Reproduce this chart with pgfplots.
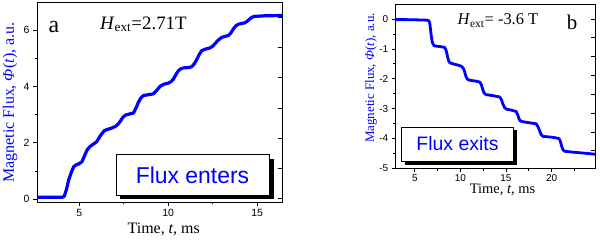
\documentclass[border=0pt]{standalone}
\usepackage{fontspec}
\setmainfont{Liberation Serif}
\newfontfamily\arial{Liberation Sans}
\usepackage{pgfplots}
\pgfplotsset{compat=1.18}
\definecolor{fluxblue}{RGB}{0,0,255}
\begin{document}
\begin{tikzpicture}
\useasboundingbox (0,0) rectangle (600bp,240bp);
\pgfplotsset{
  common/.style={
    scale only axis,
    anchor=south west,
    axis line style={line width=0.8bp},
    tick style={line width=0.7bp,black},
    major tick length=4bp,
    minor tick length=2.5bp,
    tick align=outside,
    tick pos=left,
    /pgf/number format/assume math mode=true,
    ticklabel style={font=\arial\fontsize{10.5}{12}\selectfont},
  },
  rightticks/.style={
    scale only axis,
    anchor=south west,
    axis line style={draw=none},
    tick style={line width=0.7bp,black},
    major tick length=4bp,
    tick align=inside,
    ytick pos=right,
    xtick=\empty,
    yticklabels={},
  },
}
% ---------------- Panel a ----------------
\begin{axis}[common,
  at={(37bp,38bp)}, width=245bp, height=200bp,
  xmin=2.62, xmax=16.4, ymin=-0.1, ymax=7,
  xtick={5,10,15}, minor xtick={7.5,12.5},
  ytick={0,2,4,6}, minor ytick={1,3,5},
]
\addplot[fluxblue, line width=3.2bp, line join=round, line cap=round] coordinates {
(2.62,0.07) (3.5,0.07) (4.05,0.07) (4.15,0.1) (4.28,0.35) (4.40,0.68) (4.55,0.95) (4.68,1.15) (4.82,1.22) (4.96,1.25) (5.15,1.33) (5.30,1.55) (5.43,1.74) (5.57,1.85) (5.71,1.92) (5.85,1.98) (5.99,2.05) (6.13,2.2) (6.27,2.33) (6.41,2.43) (6.55,2.47) (6.8,2.52) (7.02,2.58) (7.16,2.65) (7.30,2.76) (7.44,2.9) (7.58,2.98) (7.8,3.02) (8.05,3.06) (8.2,3.25) (8.33,3.45) (8.47,3.6) (8.61,3.68) (8.9,3.71) (9.17,3.74) (9.35,3.86) (9.53,4.0) (9.75,4.08) (10.0,4.12) (10.15,4.17) (10.29,4.26) (10.43,4.42) (10.57,4.56) (10.71,4.63) (10.85,4.66) (11.1,4.67) (11.32,4.70) (11.46,4.8) (11.6,4.95) (11.74,5.13) (11.88,5.27) (12.1,5.33) (12.35,5.37) (12.5,5.43) (12.63,5.52) (12.8,5.64) (13.0,5.74) (13.2,5.78) (13.38,5.81) (13.52,5.9) (13.66,6.04) (13.8,6.15) (13.94,6.21) (14.15,6.24) (14.31,6.26) (14.45,6.32) (14.6,6.41) (14.75,6.47) (14.87,6.49) (15.43,6.51) (16.4,6.52)
};
\end{axis}
\begin{axis}[rightticks,
  at={(37bp,38bp)}, width=245bp, height=200bp,
  xmin=2.62, xmax=16.4, ymin=-0.1, ymax=7,
  ytick={0.03,1.10,2.17,3.24,4.31,5.38,6.45},
]
\end{axis}
% ---------------- Panel b ----------------
\begin{axis}[common,
  at={(395.7bp,71.7bp)}, width=199.6bp, height=163.6bp,
  xmin=2.9, xmax=24.8, ymin=-5, ymax=0.48,
  xtick={5,10,15,20}, minor xtick={7.5,12.5,17.5,22.5},
  ytick={-5,-4,-3,-2,-1,0}, yticklabels={-5,-4,-3,-2,-1,0},
  minor ytick={-4.5,-3.5,-2.5,-1.5,-0.5},
  ticklabel style={font=\arial\fontsize{10}{11}\selectfont},
  xticklabel style={yshift=1.5bp},
]
\addplot[fluxblue, line width=2.8bp, line join=round, line cap=round] coordinates {
(2.9,-0.02) (4,-0.02) (5.5,-0.03) (6.47,-0.04) (6.58,-0.09) (6.65,-0.16) (6.72,-0.35) (6.8,-0.56) (6.9,-0.76) (7.02,-0.86) (7.17,-0.9) (7.7,-0.92) (8.27,-0.95) (8.4,-1.02) (8.5,-1.13) (8.6,-1.28) (8.72,-1.41) (8.85,-1.47) (9.19,-1.5) (9.7,-1.54) (10.1,-1.58) (10.3,-1.64) (10.45,-1.75) (10.58,-1.9) (10.73,-2.0) (10.9,-2.04) (11.2,-2.06) (11.7,-2.08) (12.12,-2.11) (12.3,-2.2) (12.45,-2.36) (12.6,-2.48) (12.8,-2.53) (13.21,-2.55) (13.8,-2.58) (14.31,-2.61) (14.5,-2.7) (14.67,-2.85) (14.85,-2.97) (15.05,-3.02) (15.58,-3.05) (16.13,-3.1) (16.3,-3.22) (16.45,-3.36) (16.6,-3.42) (17.04,-3.45) (17.7,-3.48) (18.32,-3.51) (18.5,-3.6) (18.69,-3.74) (18.85,-3.87) (19.05,-3.93) (19.78,-3.95) (20.3,-3.97) (20.8,-4.0) (20.95,-4.08) (21.1,-4.25) (21.25,-4.38) (21.45,-4.43) (22.34,-4.46) (23.5,-4.49) (24.8,-4.53)
};
\end{axis}
\begin{axis}[rightticks,
  at={(395.7bp,71.7bp)}, width=199.6bp, height=163.6bp,
  xmin=2.9, xmax=24.8, ymin=-5, ymax=0.48,
  ytick={0,-0.63,-1.26,-1.89,-2.52,-3.15,-3.78,-4.41},
]
\end{axis}
% ---------------- Labels ----------------
\node[anchor=base, inner sep=0] at (163.7bp,6.7bp) {\fontsize{16}{18}\selectfont Time, \textit{t}, ms};
\node[anchor=center, rotate=90, inner sep=0, text=fluxblue] at (10bp,137.5bp) {\fontsize{16}{18}\selectfont Magnetic Flux, \textit{Φ}(\textit{t}), a.u.};
\node[anchor=base west, inner sep=0] at (48.5bp,207.7bp) {\fontsize{24}{26}\selectfont a};
\node[anchor=base west, inner sep=0] at (100bp,210.7bp) {\fontsize{19}{21}\selectfont \textit{H}\textsubscript{ext}=2.71T};
\draw[fill=black, draw=none] (120.2bp,40.5bp) rectangle (273.8bp,81.2bp);
\draw[fill=white, draw=black, line width=0.8bp] (116bp,44.3bp) rectangle (269.3bp,85.7bp);
\node[anchor=base, inner sep=0, text=fluxblue] at (192.5bp,56.7bp) {\arial\fontsize{23}{25}\selectfont Flux enters};
\node[anchor=base, inner sep=0] at (502.5bp,46bp) {\fontsize{14.5}{16}\selectfont Time, \textit{t}, ms};
\node[anchor=center, rotate=90, inner sep=0, text=fluxblue] at (371bp,162bp) {\fontsize{13}{15}\selectfont Magnetic Flux, \textit{Φ}(\textit{t}), a.u.};
\node[anchor=base west, inner sep=0] at (457.3bp,215bp) {\fontsize{16.5}{18}\selectfont \textit{H}\textsubscript{ext}= -3.6 T};
\node[anchor=base west, inner sep=0] at (566.7bp,210bp) {\fontsize{21}{23}\selectfont b};
\draw[fill=black, draw=none] (405.2bp,75.2bp) rectangle (516.8bp,109.5bp);
\draw[fill=white, draw=black, line width=0.8bp] (401.7bp,78.7bp) rectangle (513.3bp,113bp);
\node[anchor=base, inner sep=0, text=fluxblue] at (457.5bp,89.3bp) {\arial\fontsize{19.5}{21}\selectfont Flux exits};
\end{tikzpicture}
\end{document}
